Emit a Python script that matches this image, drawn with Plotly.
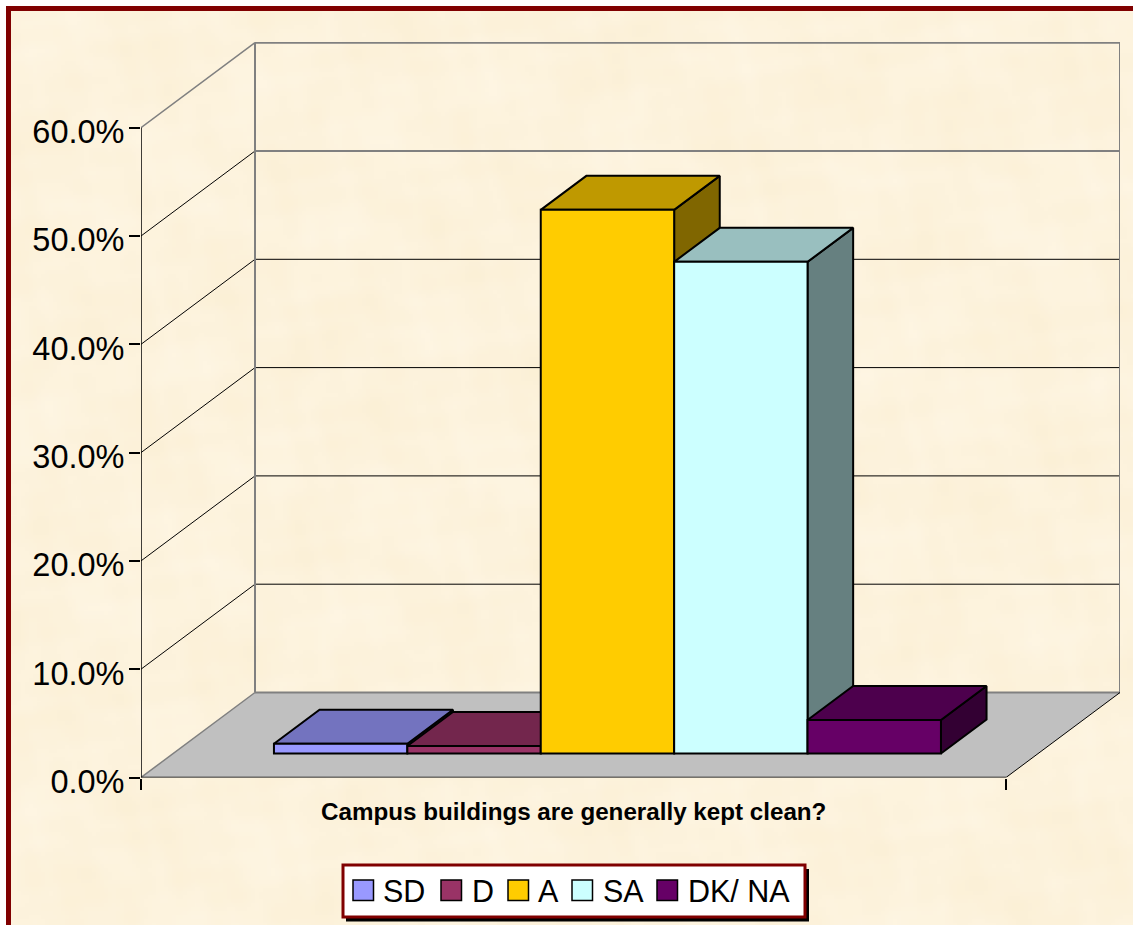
import base64
import struct
import zlib

import numpy as np
import plotly.graph_objects as go

# ---- data ----
category = "Campus buildings are generally kept clean?"
series_names = ["SD", "D", "A", "SA", "DK/ NA"]
series_values = [0.9, 0.7, 50.2, 45.4, 3.1]
front_colors = ["#9999FF", "#993366", "#FFCC00", "#CCFFFF", "#660066"]
top_colors = ["#7373BF", "#73264D", "#BF9900", "#99BFBF", "#4D004D"]
side_colors = ["#4D4D80", "#4D1A33", "#806600", "#668080", "#330033"]
tick_values = [0, 10, 20, 30, 40, 50, 60]
tick_labels = ["0.0%", "10.0%", "20.0%", "30.0%", "40.0%", "50.0%", "60.0%"]

# ---- page geometry (pixels) ----
W, H = 1133, 925
X0_PX, X1_PX, XEND_PX = 141, 1006, 1120
Y0_PX, PX_PER_PCT, YTOP_PX = 777.5, 10.83, 42


def px_x(p):
    return p / W


def px_y(p):
    return 1 - p / H


def parchment_png():
    """Soft mottled paper backdrop (decoration only, not chart data)."""
    w, h = W // 4, H // 4
    yy, xx = np.mgrid[0:h, 0:w].astype(float)
    n = (np.sin(xx / 9.3 + 1.3 * np.sin(yy / 14.1)) * np.sin(yy / 7.7 + 1.1 * np.sin(xx / 11.9))
         + 0.6 * np.sin((xx + yy) / 4.3 + np.sin(xx / 6.1)) * np.sin((xx - yy) / 3.7 + np.cos(yy / 5.3))
         + 0.35 * np.sin(xx / 1.9 + yy / 3.1) * np.sin(yy / 1.7 - xx / 2.9)) / 1.95
    rgb = np.stack([253 + 1.5 * n, 243 + 3 * n, 221 + 7 * n], axis=2).clip(0, 255).astype(np.uint8)
    raw = b"".join(b"\x00" + row.tobytes() for row in rgb)

    def chunk(tag, data):
        return struct.pack(">I", len(data)) + tag + data + struct.pack(">I", zlib.crc32(tag + data))

    png = (b"\x89PNG\r\n\x1a\n" + chunk(b"IHDR", struct.pack(">IIBBBBB", w, h, 8, 2, 0, 0, 0))
           + chunk(b"IDAT", zlib.compress(raw)) + chunk(b"IEND", b""))
    return "data:image/png;base64," + base64.b64encode(png).decode()


XSPAN = X1_PX - X0_PX
DX = 114 / XSPAN              # full chart depth in x units
DY = 85 / PX_PER_PCT          # full chart depth in y units
Z0, Z1 = 0.282, 0.682         # bar front/back depth
GROUP_LEFT = 100.8 / XSPAN
BAR_W = 133.4 / XSPAN
TOP = tick_values[-1]
EDGE = 2


def proj(x, y, z):
    return x + z * DX, y + z * DY


def poly(points):
    xs, ys = zip(*[proj(*p) for p in points])
    return list(xs) + [xs[0]], list(ys) + [ys[0]]


fig = go.Figure()


def line(xs, ys, color, width, z=0):
    fig.add_trace(go.Scatter(x=xs, y=ys, mode="lines", line=dict(color=color, width=width),
                             hoverinfo="skip", showlegend=False, cliponaxis=False, zorder=z))


# floor
fx, fy = poly([(0, 0, 0), (1, 0, 0), (1, 0, 1), (0, 0, 1)])
fig.add_trace(go.Scatter(x=fx, y=fy, mode="lines", fill="toself", fillcolor="#C0C0C0",
                         line=dict(color="rgba(0,0,0,0)", width=0), hoverinfo="skip",
                         showlegend=False, cliponaxis=False, zorder=-10))

# gridlines on left and back walls
for v in tick_values[1:]:
    a, b, c = proj(0, v, 0), proj(0, v, 1), proj(1, v, 1)
    is_top = v == TOP
    line([a[0], b[0]], [a[1], b[1]], "#808080" if is_top else "#000000", 1.5 if is_top else 1, -9)
    line([b[0], c[0]], [b[1], c[1]], "#808080" if v >= 50 else "#000000", 2 if v >= 50 else 1, -9)

# wall and floor edges
for x in (0, 1):
    a, b = proj(x, 0, 1), proj(x, TOP, 1)
    line([a[0], b[0]], [a[1], b[1]], "#808080", 2, -8)
a, b, c = proj(0, 0, 0), proj(0, 0, 1), proj(1, 0, 1)
line([a[0], b[0]], [a[1], b[1]], "#808080", 1.5, -8)
line([b[0], c[0]], [b[1], c[1]], "#808080", 2, -8)
a, b = proj(1, 0, 0), proj(1, 0, 1)
line([a[0], b[0]], [a[1], b[1]], "#000000", 1, -8)
line([0, 1], [0, 0], "#000000", 1.5, -7)
line([0, 0], [0, TOP], "#000000", 1.5, -7)

# 3D bars, painted left to right
for i, (name, v) in enumerate(zip(series_names, series_values)):
    l = GROUP_LEFT + i * BAR_W
    r = l + BAR_W
    sx, sy = poly([(r, 0, Z0), (r, 0, Z1), (r, v, Z1), (r, v, Z0)])
    tx, ty = poly([(l, v, Z0), (r, v, Z0), (r, v, Z1), (l, v, Z1)])
    base = proj(l, 0, Z0)
    order = 10 + i * 3
    fig.add_trace(go.Scatter(x=sx, y=sy, mode="lines", fill="toself", fillcolor=side_colors[i],
                             line=dict(color="#000000", width=EDGE), hoverinfo="skip",
                             showlegend=False, zorder=order))
    fig.add_trace(go.Scatter(x=tx, y=ty, mode="lines", fill="toself", fillcolor=top_colors[i],
                             line=dict(color="#000000", width=EDGE), hoverinfo="skip",
                             showlegend=False, zorder=order + 1))
    fig.add_trace(go.Bar(x=[base[0] + BAR_W / 2], y=[v], base=[base[1]], width=[BAR_W], name=name,
                         marker=dict(color=front_colors[i], line=dict(color="#000000", width=EDGE)),
                         showlegend=False, zorder=order + 2))

shapes = [
    dict(type="rect", xref="paper", yref="paper", layer="below", x0=px_x(6), x1=1,
         y0=px_y(11), y1=px_y(6), fillcolor="#800000", line=dict(width=0)),
    dict(type="rect", xref="paper", yref="paper", layer="below", x0=px_x(6), x1=px_x(11),
         y0=0, y1=px_y(6), fillcolor="#800000", line=dict(width=0)),
    dict(type="rect", xref="paper", yref="paper", x0=px_x(346), x1=px_x(809),
         y0=px_y(921.5), y1=px_y(869), fillcolor="#000000", line=dict(width=0)),
    dict(type="rect", xref="paper", yref="paper", x0=px_x(343), x1=px_x(805),
         y0=px_y(917), y1=px_y(865), fillcolor="#FFFFFF", line=dict(color="#800000", width=3)),
]
annotations = [
    dict(text=f"<b>{category}</b>", x=0.5, xref="x", y=px_y(811), yref="paper", showarrow=False,
         xanchor="center", yanchor="middle", font=dict(family="Liberation Sans", size=24.2, color="#000000")),
]
swatch_left = [353, 441, 508, 572, 657]
text_left = [382, 471, 537, 602, 687]
for name, color, sl, tl in zip(series_names, front_colors, swatch_left, text_left):
    shapes.append(dict(type="rect", xref="paper", yref="paper", x0=px_x(sl), x1=px_x(sl + 20.5),
                       y0=px_y(900.5), y1=px_y(880), fillcolor=color, line=dict(color="#000000", width=1.5)))
    annotations.append(dict(text=name, x=px_x(tl), y=px_y(891), xref="paper", yref="paper", showarrow=False,
                            xanchor="left", yanchor="middle", borderpad=0,
                            font=dict(family="Liberation Sans", size=30.5, color="#000000")))

fig.update_layout(
    width=W, height=H, margin=dict(l=0, r=0, t=0, b=0, pad=0, autoexpand=False), autosize=False,
    paper_bgcolor="#FFFFFF", plot_bgcolor="rgba(0,0,0,0)", barmode="overlay", showlegend=False,
    shapes=shapes, annotations=annotations,
    images=[dict(source=parchment_png(), xref="paper", yref="paper", x=px_x(11), y=px_y(11),
                 sizex=1 - px_x(11), sizey=px_y(11), sizing="stretch", xanchor="left", yanchor="top",
                 layer="below")],
    font=dict(family="Liberation Sans", color="#000000"),
    xaxis=dict(domain=[px_x(X0_PX), px_x(XEND_PX)], range=[0, (XEND_PX - X0_PX) / XSPAN],
               tickvals=[0, 1], ticktext=["", ""], ticks="outside", ticklen=11, tickwidth=1.5, automargin=False,
               tickcolor="#000000", showgrid=False, zeroline=False, showline=False, fixedrange=True),
    yaxis=dict(domain=[px_y(Y0_PX), px_y(YTOP_PX)], range=[0, (Y0_PX - YTOP_PX) / PX_PER_PCT],
               tickvals=tick_values, ticktext=tick_labels, ticks="outside", ticklen=11, tickwidth=1.5, automargin=False,
               tickcolor="#000000", tickfont=dict(family="Liberation Sans", size=32.5, color="#000000"),
               ticklabelshift=4, ticklabelstandoff=-2,
               showgrid=False, zeroline=False, showline=False, fixedrange=True),
)

fig.write_html("out.html", config=dict(displayModeBar=False),
               post_script="document.body.style.margin='0';document.body.style.overflow='hidden';window.dispatchEvent(new Event('resize'));")
